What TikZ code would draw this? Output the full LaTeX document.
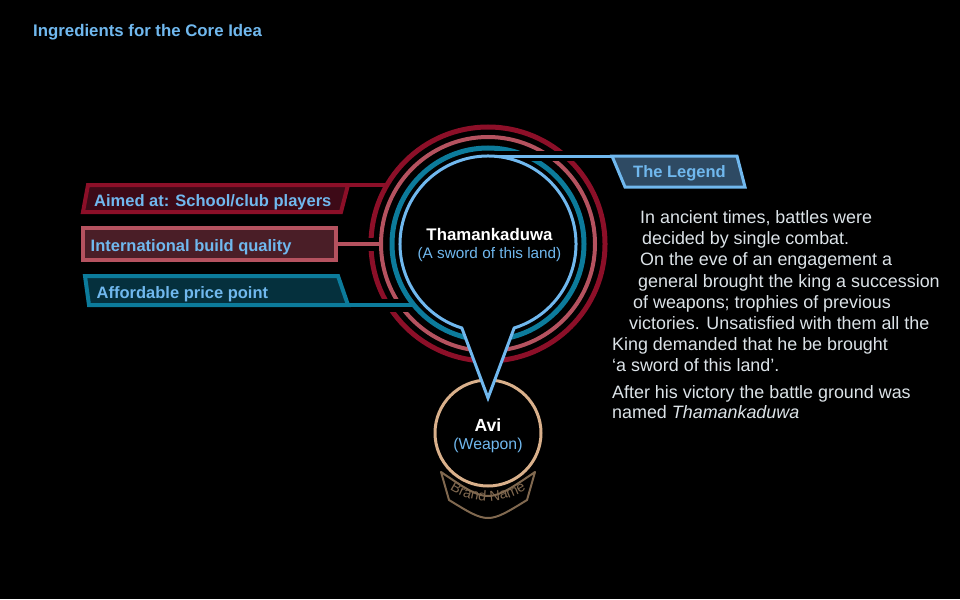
\documentclass[tikz,border=0pt]{standalone}
\usepackage{fontspec}
\setmainfont{Liberation Sans}

\begin{document}
\begin{tikzpicture}[x=1pt,y=-1pt,
    halo/.style={preaction={draw=black, line width=#1}},
    tag/.style={anchor=base west, inner sep=0pt, text=sky, font=\fontsize{16.5}{19.8}\selectfont\bfseries},
    story/.style={anchor=base west, inner sep=0pt, text=story_grey, font=\fontsize{17.9}{21}\selectfont},
    brandletter/.style={anchor=base, inner sep=0pt, text=brand, font=\fontsize{14.5}{14.5}\selectfont}]
    \definecolor{ring_red}{HTML}{8C0F28}
    \definecolor{ring_pink}{HTML}{B5525F}
    \definecolor{ring_teal}{HTML}{0C7B9B}
    \definecolor{sky}{HTML}{70B8EE}
    \definecolor{fill_red}{HTML}{3D0A17}
    \definecolor{fill_pink}{HTML}{4A1E27}
    \definecolor{fill_teal}{HTML}{05303D}
    \definecolor{fill_sky}{HTML}{2E4A63}
    \definecolor{avi_tan}{HTML}{D9B08B}
    \definecolor{brand}{HTML}{80684F}
    \definecolor{story_grey}{HTML}{DCE3E8}
    \useasboundingbox[fill=black] (0,0) rectangle (960,599);
    %\draw[help lines] (0,0) grid[step=50] (960,599);

    \coordinate (c) at (488,244);
    \coordinate (avi_c) at (488,433);
    \coordinate (tip) at (488,398);
    \coordinate (redjoin) at (387,185);
    \coordinate (pinkjoin) at (382,244);
    \coordinate (tealjoin) at (415,305);
    \coordinate (skyjoin) at (480,156);
    \coordinate (aimed_tr) at (348,185);
    \coordinate (build_r) at (336,244);
    \coordinate (price_br) at (348,305);
    \coordinate (legend_tl) at (612,156);

    % outer ring, first ingredient
    \draw[ring_red, line width=5] (c) circle[radius=117];
    \draw[ring_red, line width=4, fill=fill_red] (88,185) -- (aimed_tr) -- (341,212) -- (83,212) -- cycle;
    \draw[ring_red, line width=4] (aimed_tr) -- (redjoin);

    % second ring
    \draw[ring_pink, line width=4, halo=13] (build_r) -- (pinkjoin);
    \draw[ring_pink, line width=4, fill=fill_pink] (83,228) rectangle (336,260);
    \draw[ring_pink, line width=4] (c) circle[radius=107];

    % third ring
    \draw[ring_teal, line width=4, halo=13] (price_br) -- (tealjoin);
    \draw[ring_teal, line width=4, fill=fill_teal] (85,276) -- (338,276) -- (price_br) -- (89,305) -- cycle;
    \draw[ring_teal, line width=5] (c) circle[radius=96];

    % brand name medal
    \draw[avi_tan, line width=3] (avi_c) circle[radius=53];
    \draw[brand, line width=2, line join=round] (441,472) .. controls (488,504) .. (535,472)
        -- (527,500) .. controls (488,524) .. (449,500) -- cycle;
    \foreach \ch/\ang [count=\i] in {B/120.2, r/114.0, a/108.6, n/101.8, d/95.1, N/83.9, a/76.0, m/67.5, e/59.1}
        \node[brandletter, rotate=90-\ang] (brand\i) at ([shift={(\ang:68)}]avi_c) {\ch};

    % the legend
    \draw[sky, line width=3, halo=10] (skyjoin) -- (legend_tl);
    \draw[sky, line width=3, fill=fill_sky] (legend_tl) -- (737,156) -- (745,187) -- (625,187) -- cycle;

    % speech bubble
    \draw[sky, line width=3, fill=black] (c) ++(107.3:88) arc[start angle=107.3, end angle=432.7, radius=88] -- (tip) -- cycle;

    \node[tag, font=\fontsize{16.8}{20}\selectfont\bfseries] (title) at (33,37) {Ingredients for the Core Idea};
    \node[tag] (aimed) at (94,206) {Aimed at: School/club players};
    \node[tag] (build) at (90.5,251.5) {International build quality};
    \node[tag] (price) at (96.5,298) {Affordable price point};
    \node[tag] (legend) at (633,177) {The Legend};

    \node[anchor=base, inner sep=0pt, text=white, font=\fontsize{16.8}{20}\selectfont\bfseries] (core) at (489.5,240) {Thamankaduwa};
    \node[anchor=base, inner sep=0pt, text=sky, font=\fontsize{15.3}{18}\selectfont] (coresub) at (489.5,258) {(A sword of this land)};
    \node[anchor=base, inner sep=0pt, text=white, font=\fontsize{17.6}{20}\selectfont\bfseries] (avi) at (488,431.5) {Avi};
    \node[anchor=base, inner sep=0pt, text=sky, font=\fontsize{15.8}{18}\selectfont] (avisub) at (488,449) {(Weapon)};

    \node[story] (l1) at (640,223) {In ancient times, battles were};
    \node[story] (l2) at (642,244) {decided by single combat.};
    \node[story] (l3) at (640,265) {On the eve of an engagement a};
    \node[story] (l4) at (638,287) {general brought the king a succession};
    \node[story] (l5) at (633,308) {of weapons; trophies of previous};
    \node[story] (l6) at (629,329) {victories. Unsatisfied with them all the};
    \node[story] (l7) at (612,350) {King demanded that he be brought};
    \node[story] (l8) at (612,371) {‘a sword of this land’.};
    \node[story] (l9) at (612,398) {After his victory the battle ground was};
    \node[story] (l10) at (612,418) {named \textit{Thamankaduwa}};
\end{tikzpicture}
\end{document}
